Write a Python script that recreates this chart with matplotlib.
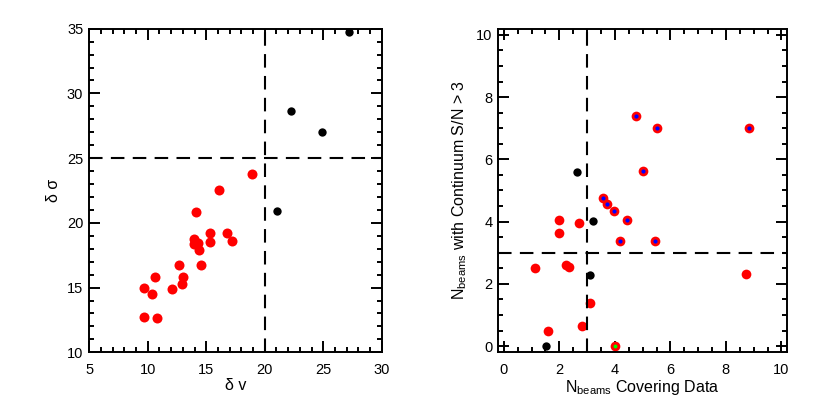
import matplotlib
matplotlib.use("Agg")
import matplotlib.pyplot as plt
from matplotlib.ticker import MultipleLocator

plt.rcParams.update({
    "font.family": ["Liberation Sans", "DejaVu Sans"],
    "mathtext.fontset": "custom",
    "mathtext.rm": "Liberation Sans",
    "font.size": 10.5,
    "axes.labelsize": 11.5,
    "axes.linewidth": 1.4,
})

# left panel: delta v vs delta sigma
dv_red = [9.68, 10.33, 10.62, 9.68, 10.81, 12.10, 12.67, 12.89, 13.03, 14.09, 13.98,
          13.98, 14.26, 14.37, 14.52, 15.32, 15.32, 16.11, 16.77, 17.20, 18.88]
ds_red = [14.95, 14.51, 15.85, 12.76, 12.64, 14.88, 16.73, 15.31, 15.85, 20.85, 18.76,
          18.35, 18.48, 17.91, 16.73, 19.25, 18.53, 22.54, 19.25, 18.63, 23.75]
dv_black = [21.01, 22.27, 24.92, 27.17]
ds_black = [20.95, 28.64, 27.05, 34.75]

# right panel: beams covering data vs beams with continuum S/N > 3
nb_blue = [4.75, 5.52, 8.84, 5.00, 3.58, 3.73, 3.95, 4.43, 4.18, 5.43]
ns_blue = [7.38, 7.01, 7.01, 5.64, 4.75, 4.56, 4.35, 4.05, 3.39, 3.37]
nb_red = [1.97, 2.00, 2.70, 1.13, 2.24, 2.34, 8.72, 3.11, 2.83, 1.59]
ns_red = [4.05, 3.65, 3.96, 2.51, 2.59, 2.54, 2.33, 1.38, 0.66, 0.50]
nb_green = [4.0]
ns_green = [0.0]
nb_black = [2.63, 3.22, 3.11, 1.53]
ns_black = [5.59, 4.02, 2.28, 0.0]

dash = (0, (6.5, 4))

fig = plt.figure(figsize=(8.17, 4.09), dpi=100)
ax1 = fig.add_axes([89.3 / 817, 1 - 352.3 / 409, 292.4 / 817, 323.6 / 409])
ax2 = fig.add_axes([498.3 / 817, 1 - 352.3 / 409, 288.7 / 817, 323.6 / 409])

for ax in (ax1, ax2):
    ax.tick_params(which="both", direction="in", top=True, right=True, width=1.4)
    ax.tick_params(which="major", length=7.6)
    ax.tick_params(which="minor", length=3.6)
    ax.tick_params(axis="x", pad=7.5)
    ax.tick_params(axis="y", pad=4.3)

# left
ax1.plot(dv_red, ds_red, "o", color="red", ms=7.2, mew=0)
ax1.plot(dv_black, ds_black, "o", color="black", ms=6.0, mew=0)
ax1.axvline(20, color="black", lw=1.5, ls=dash)
ax1.axhline(25, color="black", lw=1.5, ls=dash)
ax1.set_xlim(5, 30)
ax1.set_ylim(10, 35)
ax1.xaxis.set_major_locator(MultipleLocator(5))
ax1.xaxis.set_minor_locator(MultipleLocator(1))
ax1.yaxis.set_major_locator(MultipleLocator(5))
ax1.yaxis.set_minor_locator(MultipleLocator(1))
ax1.set_xlabel("δ v", labelpad=1)
ax1.set_ylabel("δ σ", labelpad=4)

# right
ax2.plot(nb_red, ns_red, "o", color="red", ms=7.0, mew=0)
ax2.plot(nb_blue, ns_blue, "o", color="red", ms=7.0, mew=0)
ax2.plot(nb_blue, ns_blue, "o", color="blue", ms=3.0, mew=0)
ax2.plot(nb_green, ns_green, "o", color="red", ms=7.0, mew=0)
ax2.plot(nb_green, ns_green, "o", color="#00ff00", ms=2.8, mew=0)
ax2.plot(nb_black, ns_black, "o", color="black", ms=6.0, mew=0)
ax2.axvline(3, color="black", lw=1.5, ls=dash)
ax2.axhline(3, color="black", lw=1.5, ls=dash)
ax2.set_xlim(-0.2, 10.2)
ax2.set_ylim(-0.2, 10.2)
ax2.xaxis.set_major_locator(MultipleLocator(2))
ax2.xaxis.set_minor_locator(MultipleLocator(0.5))
ax2.yaxis.set_major_locator(MultipleLocator(2))
ax2.yaxis.set_minor_locator(MultipleLocator(0.5))
ax2.set_xlabel(r"N$_{\rm beams}$ Covering Data", labelpad=1)
ax2.set_ylabel(r"N$_{\rm beams}$ with Continuum S/N > 3", labelpad=5)

fig.savefig("out.png", dpi=100)
